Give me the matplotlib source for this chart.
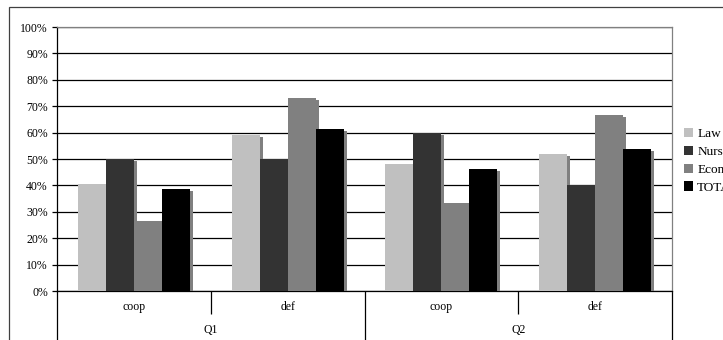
import numpy as np
import matplotlib
matplotlib.use("Agg")
import matplotlib.pyplot as plt
from matplotlib.patches import Rectangle

plt.rcParams['font.family'] = ['Liberation Serif', 'DejaVu Serif']

# Data: share of answers per faculty
questions = ["Q1", "Q2"]
choices = ["coop", "def"]
series = ["Law", "Nurses", "Economics", "TOTAL"]
law = [40.5, 59.0, 48.1, 51.9]
nurses = [50.0, 50.0, 60.0, 40.0]
economics = [26.5, 73.2, 33.3, 66.7]
total = [38.6, 61.4, 46.2, 53.8]
colors = ['#c0c0c0', '#333333', '#808080', '#000000']

values = [law, nurses, economics, total]
n_cat = len(questions) * len(choices)
x = np.arange(n_cat) + 0.5

W, H, DPI = 723, 340, 100
fig = plt.figure(figsize=(W / DPI, H / DPI), dpi=DPI)
fig.patch.set_facecolor('white')

# outer chart border (runs past the right/bottom edge)
fig.patches.append(Rectangle((9 / W, -0.1), 1.2, 1.1 - 7 / H, transform=fig.transFigure,
                             fill=False, edgecolor='#404040', lw=0.9))

left, right, top, bottom = 57, 672, 27, 291
ax = fig.add_axes([left / W, 1 - bottom / H, (right - left) / W, (bottom - top) / H])

bw = 0.182
px_x = 1.0 / ((right - left) / n_cat)
px_y = 100.0 / (bottom - top)
for k, (vals, c) in enumerate(zip(values, colors)):
    pos = x + (k - 1.5) * bw
    # drop shadow behind each bar
    ax.bar(pos + 3 * px_x, np.array(vals) - 2 * px_y, width=bw, color='#808080',
           linewidth=0, zorder=3 + 2 * k)
    ax.bar(pos, vals, width=bw, color=c, linewidth=0, zorder=4 + 2 * k, label=series[k])

ax.set_xlim(0, n_cat)
ax.set_ylim(0, 100)
ax.set_yticks(np.arange(0, 101, 10))
ax.set_yticklabels([f"{v}%" for v in range(0, 101, 10)], fontsize=8.5)
ax.yaxis.grid(True, color='black', lw=0.9)
ax.set_axisbelow(True)
ax.tick_params(axis='y', direction='out', length=3.6, width=0.9, pad=3)

# category boundaries as ticks below the axis
ax.set_xticks([0, 2, 4])
ax.set_xticklabels([])
ax.set_xticks([1, 3], minor=True)
ax.tick_params(axis='x', which='major', direction='out', length=36, width=0.9)
ax.tick_params(axis='x', which='minor', direction='out', length=16.6, width=0.9)

for i in range(n_cat):
    ax.text(x[i], -16 / (bottom - top), choices[i % 2], transform=ax.get_xaxis_transform(),
            ha='center', va='center', fontsize=8.5)
for j, q in enumerate(questions):
    ax.text(2 * j + 1, -39 / (bottom - top), q, transform=ax.get_xaxis_transform(),
            ha='center', va='center', fontsize=8.5)

for name, sp in ax.spines.items():
    sp.set_linewidth(0.9)
    sp.set_color('black' if name in ('left', 'bottom') else '#808080')

ax.legend(loc='upper left', bbox_to_anchor=(684 / W, 1 - 128 / H), bbox_transform=fig.transFigure,
          frameon=False, fontsize=9.5, handlelength=0.7, handleheight=0.7,
          handletextpad=0.3, labelspacing=0.42, borderpad=0, borderaxespad=0)

fig.savefig("out.png", dpi=DPI)
